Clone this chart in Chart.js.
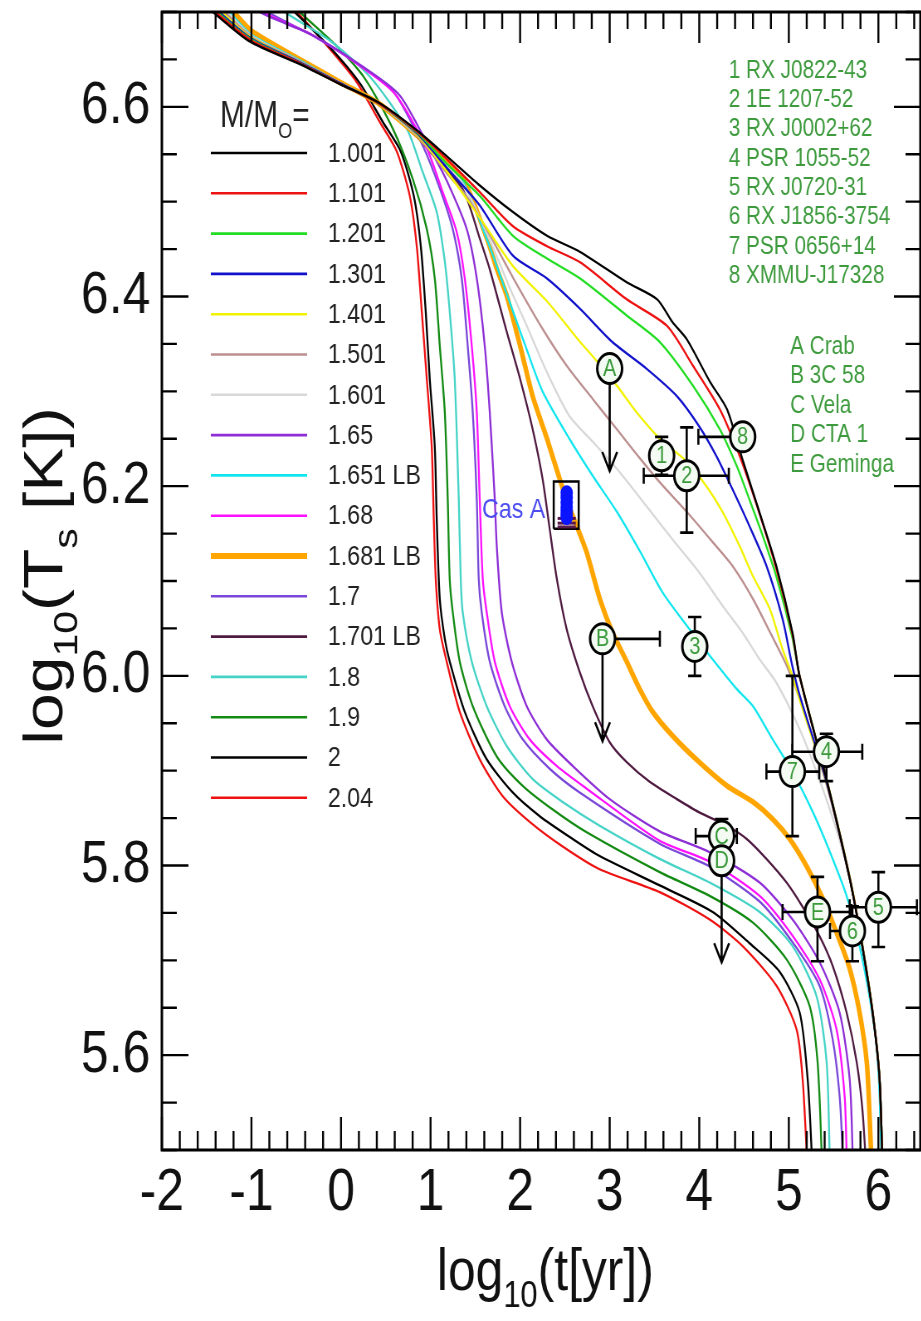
<!DOCTYPE html>
<html><head><meta charset="utf-8">
<script src="https://cdn.jsdelivr.net/npm/chart.js@4.4.0/dist/chart.umd.min.js"></script>
<style>
html,body{margin:0;padding:0;background:#fff;overflow:hidden;}
#wrap{width:1110px;height:1321px;transform:scaleX(0.83);transform-origin:0 0;}
canvas{display:block;}
</style></head><body>
<div id="wrap"><canvas id="c" width="1110" height="1321"></canvas></div>
<script>
// ---------- DATA ----------
const xTicks = [-2,-1,0,1,2,3,4,5,6];
const yTicks = [5.6,5.8,6.0,6.2,6.4,6.6];

const massLabels = ['1.001','1.101','1.201','1.301','1.401','1.501','1.601','1.65','1.651 LB','1.68','1.681 LB','1.7','1.701 LB','1.8','1.9','2','2.04'];
const massColors = ['#000000','#ee1111','#22dd22','#1111cc','#f2f200','#bc8f8f','#d8d8d8','#8e2fd6','#11e6ee','#ff11ff','#ffa500','#7a48d8','#4f1a40','#45d3c6','#138a13','#000000','#ee1111'];

const m1001 = [[-1.8,6.73],[-1.43,6.70],[-1.02,6.669],[-0.46,6.645],[-0.01,6.624],[0.43,6.604],[0.85,6.575],[1.18,6.548],[1.55,6.517],[1.92,6.489],[2.30,6.464],[2.67,6.447],[3.19,6.415],[3.53,6.397],[3.70,6.373],[3.86,6.355],[4.12,6.31],[4.31,6.281],[4.48,6.229],[4.67,6.173],[4.86,6.116],[5.04,6.046],[5.12,6.0],[5.42,5.891],[5.68,5.786],[5.82,5.715],[5.935,5.645],[6.013,5.575],[6.05,5.47]];
const m1101 = [[-1.8,6.735],[-1.40,6.70],[-1.0,6.67],[-0.46,6.646],[-0.01,6.624],[0.43,6.603],[0.85,6.574],[1.18,6.545],[1.55,6.51],[1.92,6.474],[2.30,6.453],[2.67,6.436],[3.19,6.397],[3.64,6.369],[3.93,6.327],[4.23,6.281],[4.45,6.232],[4.67,6.172],[4.86,6.113],[5.04,6.044],[5.12,6.0],[5.42,5.891],[5.68,5.787],[5.82,5.716],[5.935,5.646],[6.013,5.576],[6.05,5.47]];
const m1201 = [[-1.8,6.74],[-1.38,6.70],[-1.0,6.671],[-0.46,6.646],[-0.01,6.624],[0.43,6.603],[0.85,6.573],[1.18,6.54],[1.55,6.506],[1.92,6.464],[2.30,6.44],[2.67,6.419],[3.19,6.38],[3.56,6.352],[3.93,6.306],[4.23,6.26],[4.42,6.221],[4.56,6.186],[4.70,6.15],[4.86,6.105],[5.04,6.04],[5.12,6.0],[5.42,5.892],[5.68,5.788],[5.82,5.717],[5.935,5.647],[6.013,5.577],[6.05,5.47]];
const m1301 = [[-1.8,6.74],[-1.36,6.70],[-1.0,6.672],[-0.46,6.647],[-0.01,6.625],[0.43,6.603],[0.85,6.572],[1.18,6.536],[1.55,6.496],[1.92,6.443],[2.30,6.419],[2.67,6.387],[3.03,6.352],[3.41,6.324],[3.75,6.295],[4.0,6.263],[4.19,6.232],[4.37,6.197],[4.56,6.158],[4.75,6.116],[4.93,6.06],[5.04,6.01],[5.12,5.98],[5.42,5.888],[5.68,5.786],[5.82,5.716],[5.935,5.646],[6.013,5.576],[6.05,5.47]];
const m1401 = [[-1.8,6.745],[-1.33,6.70],[-1.0,6.673],[-0.46,6.647],[-0.01,6.625],[0.43,6.603],[0.85,6.571],[1.18,6.532],[1.55,6.483],[1.92,6.432],[2.30,6.395],[2.67,6.352],[2.81,6.337],[3.08,6.306],[3.30,6.278],[3.56,6.25],[3.86,6.226],[4.08,6.2],[4.26,6.173],[4.45,6.137],[4.60,6.105],[4.79,6.07],[4.93,6.028],[5.04,6.0],[5.12,5.975],[5.42,5.887],[5.68,5.786],[5.82,5.716],[5.935,5.646],[6.013,5.576],[6.05,5.47]];
const m1501 = [[-1.8,6.745],[-1.30,6.70],[-1.0,6.674],[-0.46,6.648],[-0.01,6.625],[0.43,6.603],[0.85,6.57],[1.18,6.53],[1.40,6.506],[1.66,6.465],[1.92,6.42],[2.25,6.366],[2.52,6.327],[2.81,6.292],[3.08,6.26],[3.34,6.229],[3.56,6.204],[3.86,6.173],[4.15,6.141],[4.37,6.116],[4.60,6.081],[4.79,6.046],[4.98,6.01],[5.12,5.976],[5.42,5.886],[5.68,5.786],[5.82,5.716],[5.935,5.646],[6.013,5.576],[6.05,5.47]];
const m1601 = [[-1.8,6.75],[-1.27,6.70],[-1.0,6.675],[-0.46,6.648],[-0.01,6.625],[0.43,6.603],[0.85,6.57],[1.0,6.556],[1.36,6.519],[1.66,6.46],[1.88,6.41],[2.07,6.37],[2.30,6.32],[2.55,6.274],[2.81,6.247],[3.11,6.215],[3.41,6.179],[3.70,6.144],[4.0,6.109],[4.26,6.074],[4.48,6.046],[4.67,6.018],[4.86,5.993],[5.12,5.944],[5.34,5.891],[5.53,5.838],[5.68,5.786],[5.82,5.716],[5.935,5.646],[6.013,5.576],[6.05,5.47]];
const m1650 = [[-1.12,6.72],[-0.906,6.70],[-0.348,6.677],[0.232,6.643],[0.656,6.612],[0.991,6.556],[1.181,6.522],[1.404,6.471],[1.516,6.419],[1.605,6.348],[1.661,6.278],[1.717,6.186],[1.739,6.137],[1.795,6.067],[1.906,6.015],[2.074,5.968],[2.297,5.933],[2.587,5.905],[3.0,5.87],[3.558,5.836],[4.116,5.814],[4.674,5.782],[5.042,5.743],[5.344,5.698],[5.567,5.645],[5.679,5.575],[5.712,5.498],[5.715,5.47]];
const m1651LB = [[-1.8,6.75],[-1.25,6.70],[-1.0,6.676],[-0.46,6.649],[-0.01,6.625],[0.43,6.603],[0.85,6.57],[0.99,6.556],[1.36,6.521],[1.63,6.46],[1.88,6.395],[2.07,6.345],[2.25,6.30],[2.55,6.25],[2.81,6.211],[3.08,6.173],[3.34,6.131],[3.59,6.088],[3.86,6.053],[4.12,6.021],[4.42,5.986],[4.60,5.968],[4.82,5.933],[5.04,5.899],[5.27,5.856],[5.46,5.814],[5.645,5.768],[5.79,5.715],[5.90,5.662],[5.98,5.609],[6.013,5.557],[6.04,5.47]];
const m1680 = [[-1.1,6.72],[-0.873,6.70],[-0.326,6.676],[0.232,6.642],[0.6,6.614],[0.958,6.556],[1.136,6.51],[1.292,6.468],[1.382,6.419],[1.46,6.348],[1.516,6.278],[1.549,6.186],[1.583,6.102],[1.627,6.067],[1.717,6.015],[1.884,5.968],[2.107,5.933],[2.408,5.905],[2.743,5.881],[3.558,5.826],[4.116,5.804],[4.674,5.768],[5.042,5.726],[5.344,5.68],[5.533,5.627],[5.623,5.557],[5.645,5.498],[5.65,5.47]];
const m1681LB = [[-1.8,6.76],[-1.2,6.70],[-1.0,6.68],[-0.46,6.65],[-0.01,6.626],[0.43,6.603],[0.85,6.57],[0.99,6.557],[1.36,6.524],[1.63,6.461],[1.74,6.429],[1.85,6.401],[2.0,6.348],[2.14,6.295],[2.30,6.25],[2.44,6.208],[2.52,6.185],[2.59,6.168],[2.74,6.131],[2.89,6.081],[3.03,6.046],[3.19,6.015],[3.335,5.986],[3.48,5.962],[3.70,5.937],[4.0,5.909],[4.31,5.884],[4.60,5.867],[4.82,5.849],[5.01,5.828],[5.20,5.799],[5.38,5.765],[5.53,5.73],[5.68,5.691],[5.79,5.645],[5.87,5.593],[5.90,5.54],[5.93,5.47]];
const m1700 = [[-1.05,6.72],[-0.817,6.70],[-0.292,6.674],[0.265,6.64],[0.6,6.614],[0.913,6.559],[1.103,6.514],[1.248,6.471],[1.348,6.419],[1.415,6.348],[1.471,6.278],[1.516,6.186],[1.538,6.102],[1.571,6.067],[1.661,6.015],[1.828,5.968],[2.029,5.933],[2.33,5.902],[2.665,5.877],[3.558,5.823],[4.116,5.799],[4.674,5.762],[5.042,5.719],[5.344,5.673],[5.489,5.617],[5.567,5.557],[5.6,5.498],[5.605,5.47]];
const m1701LB = [[-1.8,6.76],[-1.22,6.70],[-1.0,6.679],[-0.46,6.65],[-0.01,6.626],[0.43,6.603],[0.85,6.568],[0.99,6.553],[1.36,6.513],[1.55,6.461],[1.66,6.429],[1.85,6.363],[2.0,6.313],[2.14,6.26],[2.25,6.208],[2.33,6.155],[2.41,6.102],[2.52,6.049],[2.665,6.004],[2.81,5.968],[3.0,5.93],[3.19,5.909],[3.45,5.888],[3.75,5.87],[4.0,5.856],[4.31,5.842],[4.53,5.828],[4.75,5.807],[4.975,5.782],[5.15,5.757],[5.34,5.726],[5.49,5.694],[5.645,5.645],[5.757,5.593],[5.824,5.54],[5.87,5.47]];
const m1800 = [[-0.85,6.72],[-0.627,6.70],[-0.125,6.67],[0.321,6.632],[0.734,6.577],[0.913,6.531],[1.069,6.489],[1.159,6.437],[1.214,6.384],[1.27,6.313],[1.315,6.186],[1.337,6.102],[1.359,6.067],[1.46,6.015],[1.627,5.968],[1.85,5.926],[2.141,5.891],[2.475,5.867],[2.888,5.842],[3.558,5.807],[4.116,5.782],[4.674,5.751],[5.042,5.715],[5.31,5.662],[5.422,5.593],[5.455,5.498],[5.46,5.47]];
const m1900 = [[-0.65,6.72],[-0.46,6.70],[-0.069,6.666],[0.265,6.63],[0.578,6.577],[0.801,6.524],[0.958,6.471],[1.047,6.419],[1.103,6.348],[1.159,6.278],[1.192,6.186],[1.214,6.102],[1.248,6.067],[1.326,6.015],[1.471,5.968],[1.739,5.915],[2.029,5.884],[2.364,5.859],[2.743,5.835],[3.558,5.793],[4.116,5.768],[4.596,5.74],[4.975,5.701],[5.232,5.652],[5.321,5.593],[5.366,5.498],[5.37,5.47]];
const m2000 = [[-0.72,6.72],[-0.516,6.70],[-0.125,6.663],[0.21,6.625],[0.467,6.584],[0.667,6.553],[0.813,6.506],[0.891,6.453],[0.946,6.384],[0.991,6.313],[1.047,6.242],[1.069,6.165],[1.103,6.081],[1.159,6.039],[1.214,6.015],[1.382,5.962],[1.627,5.912],[1.917,5.877],[2.219,5.852],[2.587,5.828],[2.888,5.81],[3.558,5.779],[4.15,5.751],[4.562,5.718],[4.897,5.688],[5.121,5.645],[5.21,5.575],[5.255,5.498],[5.26,5.47]];
const m2040 = [[-0.7,6.72],[-0.493,6.70],[-0.125,6.661],[0.176,6.626],[0.433,6.584],[0.623,6.553],[0.768,6.506],[0.846,6.453],[0.902,6.384],[0.958,6.313],[1.013,6.242],[1.036,6.165],[1.058,6.102],[1.103,6.049],[1.18,6.015],[1.326,5.962],[1.549,5.912],[1.806,5.873],[2.107,5.846],[2.475,5.82],[2.888,5.796],[3.558,5.772],[4.116,5.743],[4.484,5.715],[4.864,5.673],[5.087,5.627],[5.154,5.575],[5.199,5.498],[5.21,5.47]];
const curves = [m1001,m1101,m1201,m1301,m1401,m1501,m1601,m1650,m1651LB,m1680,m1681LB,m1700,m1701LB,m1800,m1900,m2000,m2040];

// observed sources
const ptNames = ['A','B','C','D','E','1','2','3','4','5','6','7','8'];
const ptX   = [3.0, 2.92, 4.25, 4.25, 5.32, 3.58, 3.86, 3.95, 5.42, 6.0, 5.71, 5.04, 4.485];
const ptY   = [6.324,6.039,5.831,5.805,5.751,6.232,6.211,6.031,5.920,5.756,5.731,5.899,6.252];
const ptXLo = [null,null,3.96,null,4.93,null,3.38,null,5.04,5.68,5.46,4.75,3.99];
const ptXHi = [null,3.56,4.42,null,5.70,null,4.33,null,5.82,6.43,5.78,5.34,null];
const ptYLo = [null,null,null,null,5.699,6.212,6.151,6.0,5.889,5.714,5.699,5.831,null];
const ptYHi = [null,null,5.849,null,5.788,6.252,6.262,6.062,5.939,5.793,5.757,6.0,null];
const ptLimit = [6.216,5.931,null,5.698,null,null,null,null,null,null,null,null,null];

// Cas A
const casAX = [2.52,2.52,2.52,2.52,2.52,2.52,2.52];
const casAY = [6.193,6.188,6.183,6.178,6.174,6.170,6.167];
const casALowX = [2.52,2.52,2.52];
const casALowY = [6.166,6.161,6.157];
const casBoxX = [2.375,2.375,2.654,2.654,2.375];
const casBoxY = [6.155,6.205,6.205,6.155,6.155];

const srcList1 = ['1 RX J0822-43','2 1E 1207-52','3 RX J0002+62','4 PSR 1055-52','5 RX J0720-31','6 RX J1856-3754','7 PSR 0656+14','8 XMMU-J17328'];
const srcList2 = ['A Crab','B 3C 58','C Vela','D CTA 1','E Geminga'];

// ---------- CHART ----------
const SX = 0.83;
const FONT = "'Liberation Sans', Arial, Helvetica, sans-serif";
const toXY = arr => arr.map(p => ({x:p[0], y:p[1]}));
const zipXY = (xs, ys) => xs.map((x,i)=>({x:x, y:ys[i]}));

const datasets = [];
datasets.push({
  label:'sources', data: zipXY(ptX, ptY), showLine:false,
  pointRadius:15, pointBorderWidth:3, pointBorderColor:'#000', pointBackgroundColor:'#f3fbf3', clip:false
});
datasets.push({label:'CasA', data: zipXY(casAX, casAY), showLine:false, pointRadius:7.5, pointBorderWidth:0, pointBackgroundColor:'#0a14ff', pointBorderColor:'#0a14ff'});
datasets.push({label:'CasAlow', data: zipXY(casALowX, casALowY), showLine:false, pointStyle:'line', pointRadius:11, pointBorderWidth:3, pointBorderColor:'#5a1a4a'});
datasets.push({label:'CasAbox', data: zipXY(casBoxX, casBoxY), showLine:true, pointRadius:0, borderColor:'#000', borderWidth:2.5, tension:0});
curves.forEach((c,i)=>{
  datasets.push({
    label: massLabels[i], data: toXY(c), showLine:true, pointRadius:0,
    borderColor: massColors[i], borderWidth: massLabels[i]==='1.681 LB' ? 5.5 : 2.3,
    tension:0.25, clip:0
  });
});

const extras = {
  id:'extras',
  beforeDatasetDraw(chart, args){
    if(args.index!==0) return;
    const ctx = chart.ctx, xs = chart.scales.x, ys = chart.scales.y;
    ctx.save();
    ctx.strokeStyle='#000'; ctx.lineWidth=2.6; ctx.fillStyle='#000';
    const cap=8;
    for(let i=0;i<ptX.length;i++){
      const cx = xs.getPixelForValue(ptX[i]), cy = ys.getPixelForValue(ptY[i]);
      ctx.beginPath();
      if(ptXLo[i]!=null){const p=xs.getPixelForValue(ptXLo[i]); ctx.moveTo(cx,cy);ctx.lineTo(p,cy);ctx.moveTo(p,cy-cap);ctx.lineTo(p,cy+cap);}
      if(ptXHi[i]!=null){const p=xs.getPixelForValue(ptXHi[i]); ctx.moveTo(cx,cy);ctx.lineTo(p,cy);ctx.moveTo(p,cy-cap);ctx.lineTo(p,cy+cap);}
      if(ptYLo[i]!=null){const p=ys.getPixelForValue(ptYLo[i]); ctx.moveTo(cx,cy);ctx.lineTo(cx,p);ctx.moveTo(cx-cap,p);ctx.lineTo(cx+cap,p);}
      if(ptYHi[i]!=null){const p=ys.getPixelForValue(ptYHi[i]); ctx.moveTo(cx,cy);ctx.lineTo(cx,p);ctx.moveTo(cx-cap,p);ctx.lineTo(cx+cap,p);}
      ctx.stroke();
      if(ptLimit[i]!=null){
        const p=ys.getPixelForValue(ptLimit[i]);
        ctx.beginPath(); ctx.moveTo(cx,cy); ctx.lineTo(cx,p);
        ctx.moveTo(cx-9,p-19); ctx.lineTo(cx,p); ctx.lineTo(cx+9,p-19);
        ctx.stroke();
      }
    }
    ctx.restore();
  },
  afterDraw(chart){
    const ctx = chart.ctx, xs = chart.scales.x, ys = chart.scales.y, a = chart.chartArea;
    ctx.save();
    ctx.fillStyle='#3a9a3a'; ctx.font='24px '+FONT; ctx.textAlign='center'; ctx.textBaseline='middle';
    for(let i=0;i<ptX.length;i++){
      ctx.fillText(ptNames[i], xs.getPixelForValue(ptX[i]), ys.getPixelForValue(ptY[i])+1);
    }
    ctx.strokeStyle='#000'; ctx.lineWidth=3;
    ctx.strokeRect(a.left, a.top, a.right-a.left, a.bottom-a.top);
    ctx.lineWidth=2.4;
    ctx.beginPath();
    for(let k=0;k<=43;k++){
      const v = -2 + k*0.2; if(v > xs.max) break;
      const px = xs.getPixelForValue(v);
      const major = Math.abs(v-Math.round(v))<1e-6;
      ctx.moveTo(px,a.bottom); ctx.lineTo(px,a.bottom-(major?33:19));
      ctx.moveTo(px,a.top); ctx.lineTo(px,a.top+(major?31:17));
    }
    for(let k=0;k<=24;k++){
      const v = 5.5 + k*0.05; if(v>6.7001) break;
      const py = ys.getPixelForValue(v);
      const major = Math.abs(v*5-Math.round(v*5))<1e-6 && Math.round(v*10)%2===0;
      const L = major?32:18;
      ctx.moveTo(a.left,py); ctx.lineTo(a.left+L,py);
      ctx.moveTo(a.right,py); ctx.lineTo(a.right-L,py);
    }
    ctx.stroke();

    ctx.fillStyle='#111'; ctx.font='60px '+FONT; ctx.textAlign='center'; ctx.textBaseline='alphabetic';
    xTicks.forEach(v=>ctx.fillText(String(v), xs.getPixelForValue(v), 1210));

    ctx.textAlign='left';
    const rich = (parts, size) => {
      let w=0; parts.forEach(p=>{ctx.font=(p[1]?size*0.62:size)+'px '+FONT; w+=ctx.measureText(p[0]).width;}); return w;
    };
    const drawRich = (parts, size, x, y) => {
      let cx=x; parts.forEach(p=>{ctx.font=(p[1]?size*0.62:size)+'px '+FONT; ctx.fillText(p[0], cx, y+(p[1]?size*0.28:0)); cx+=ctx.measureText(p[0]).width;});
    };
    const xt = [['log',0],['10',1],['(t[yr])',0]];
    const xsz=60, xw = rich(xt,xsz);
    drawRich(xt, xsz, 657 - xw/2, 1290);
    const yt = [['log',0],['10',1],['(T',0],['s',1],[' [K])',0]];
    const ysz=66, yw = rich(yt,ysz);
    ctx.save(); ctx.translate(75, 576); ctx.rotate(-Math.PI/2);
    drawRich(yt, ysz, -yw/2, 0);
    ctx.restore();

    ctx.fillStyle='#222';
    ctx.font='36px '+FONT; ctx.textBaseline='alphabetic';
    let lx = 265; ctx.fillText('M/M', lx, 127); lx += ctx.measureText('M/M').width;
    ctx.font='22px '+FONT; ctx.fillText('O', lx, 138); lx += ctx.measureText('O').width;
    ctx.font='36px '+FONT; ctx.fillText('=', lx, 127);
    ctx.textBaseline='middle'; ctx.font='28px '+FONT;
    massLabels.forEach((lab,i)=>{
      const y = 153 + i*40.3;
      ctx.strokeStyle=massColors[i]; ctx.lineWidth = lab==='1.681 LB'?6:2.6;
      ctx.beginPath(); ctx.moveTo(254,y); ctx.lineTo(370,y); ctx.stroke();
      ctx.fillStyle='#222'; ctx.fillText(lab, 395, y+1);
    });

    ctx.fillStyle='#3d9a3d'; ctx.font='25px '+FONT; ctx.textBaseline='middle';
    srcList1.forEach((t,i)=>ctx.fillText(t, 878, 71 + i*29.3));
    srcList2.forEach((t,i)=>ctx.fillText(t, 952, 347 + i*29.5));

    ctx.fillStyle='#4c4cf0'; ctx.font='28px '+FONT; ctx.textAlign='right';
    ctx.fillText('Cas A', 657, 510);
    ctx.restore();
  }
};

const noPad = s => { s.paddingTop=0; s.paddingBottom=0; s.paddingLeft=0; s.paddingRight=0; };

new Chart(document.getElementById('c'), {
  type:'scatter',
  data:{datasets},
  options:{
    responsive:false, animation:false, devicePixelRatio:1,
    layout:{autoPadding:false, padding:{top:12,right:1,left:0,bottom:0}},
    plugins:{legend:{display:false}, tooltip:{enabled:false}},
    scales:{
      x:{type:'linear', min:-2, max:6.47,
        afterBuildTicks(s){ s.ticks = xTicks.map(v=>({value:v})); },
        afterFit(s){ s.height = 171; noPad(s); },
        grid:{display:false, drawTicks:false}, border:{display:false},
        ticks:{display:false}
      },
      y:{type:'linear', min:5.5, max:6.7,
        afterBuildTicks(s){ s.ticks = yTicks.map(v=>({value:v})); },
        afterFit(s){ s.width = 195; noPad(s); },
        grid:{display:false, drawTicks:false}, border:{display:false},
        ticks:{font:{family:FONT,size:60}, color:'#111', padding:14, autoSkip:false, callback:v=>v.toFixed(1)}
      }
    }
  },
  plugins:[extras]
});
</script>
</body></html>
